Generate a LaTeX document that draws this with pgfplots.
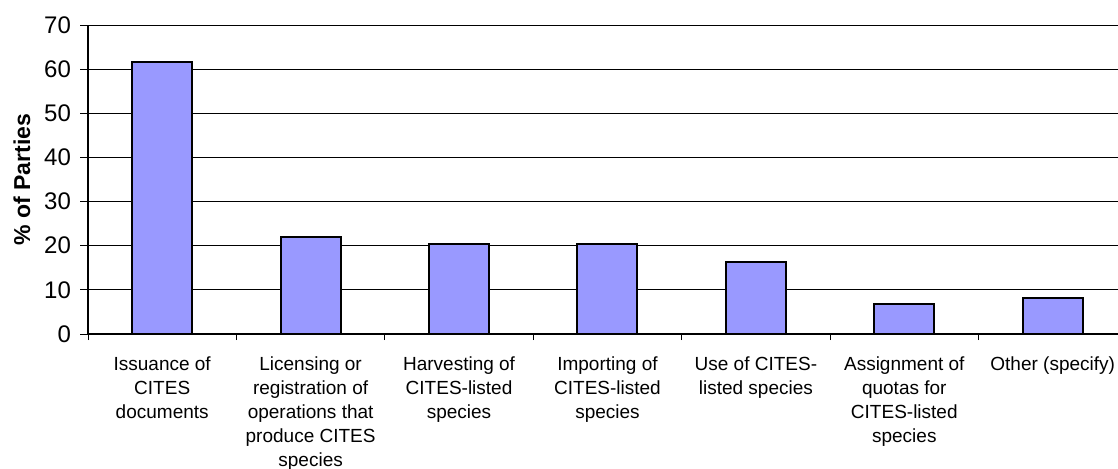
\documentclass[border=0pt]{standalone}
\usepackage{fontspec}
\setmainfont{Liberation Sans}
\usepackage{pgfplots}
\pgfplotsset{compat=1.18}
\definecolor{barblue}{HTML}{9999FF}
\begin{document}
\begin{tikzpicture}
\useasboundingbox (0,0) rectangle (559pt,234pt);
\begin{axis}[
  at={(44pt,67pt)}, anchor=south west,
  scale only axis, width=515pt, height=154.5pt,
  ymin=0, ymax=70, ytick={0,10,...,70},
  xmin=-0.5, xmax=6.44,
  axis lines*=left,
  axis line style={black, line width=0.6pt},
  ymajorgrids,
  major grid style={black, line width=0.5pt},
  tick align=outside,
  major tick length=4pt,
  minor tick length=3pt,
  xtick={0,...,6},
  minor xtick={-0.5,0.5,...,5.5},
  major x tick style={draw=none},
  minor x tick style={black, line width=0.5pt},
  y tick style={black, line width=0.5pt},
  xticklabels={{Issuance of\\CITES\\documents},
    {Licensing or\\registration of\\operations that\\produce CITES\\species},
    {Harvesting of\\CITES-listed\\species},
    {Importing of\\CITES-listed\\species},
    {Use of CITES-\\listed species},
    {Assignment of\\quotas for\\CITES-listed\\species},
    {Other (specify)}},
  xticklabel style={align=center, font=\fontsize{9.5}{12}\selectfont, anchor=north, yshift=-4pt},
  yticklabel style={font=\fontsize{12}{14}\selectfont, xshift=-1pt},
  /pgf/number format/assume math mode=true,
  ylabel={\bfseries\% of Parties},
  every axis y label/.style={at={(axis description cs:0,0.5)}, xshift=-33pt, rotate=90, anchor=center, font=\fontsize{11.5}{13}\selectfont},
  ybar, bar width=30pt,
]
\addplot[fill=barblue, draw=black, line width=1pt] coordinates {
  (0,61.6) (1,21.9) (2,20.5) (3,20.5) (4,16.4) (5,6.8) (6,8.2)
};
\end{axis}
\end{tikzpicture}
\end{document}
